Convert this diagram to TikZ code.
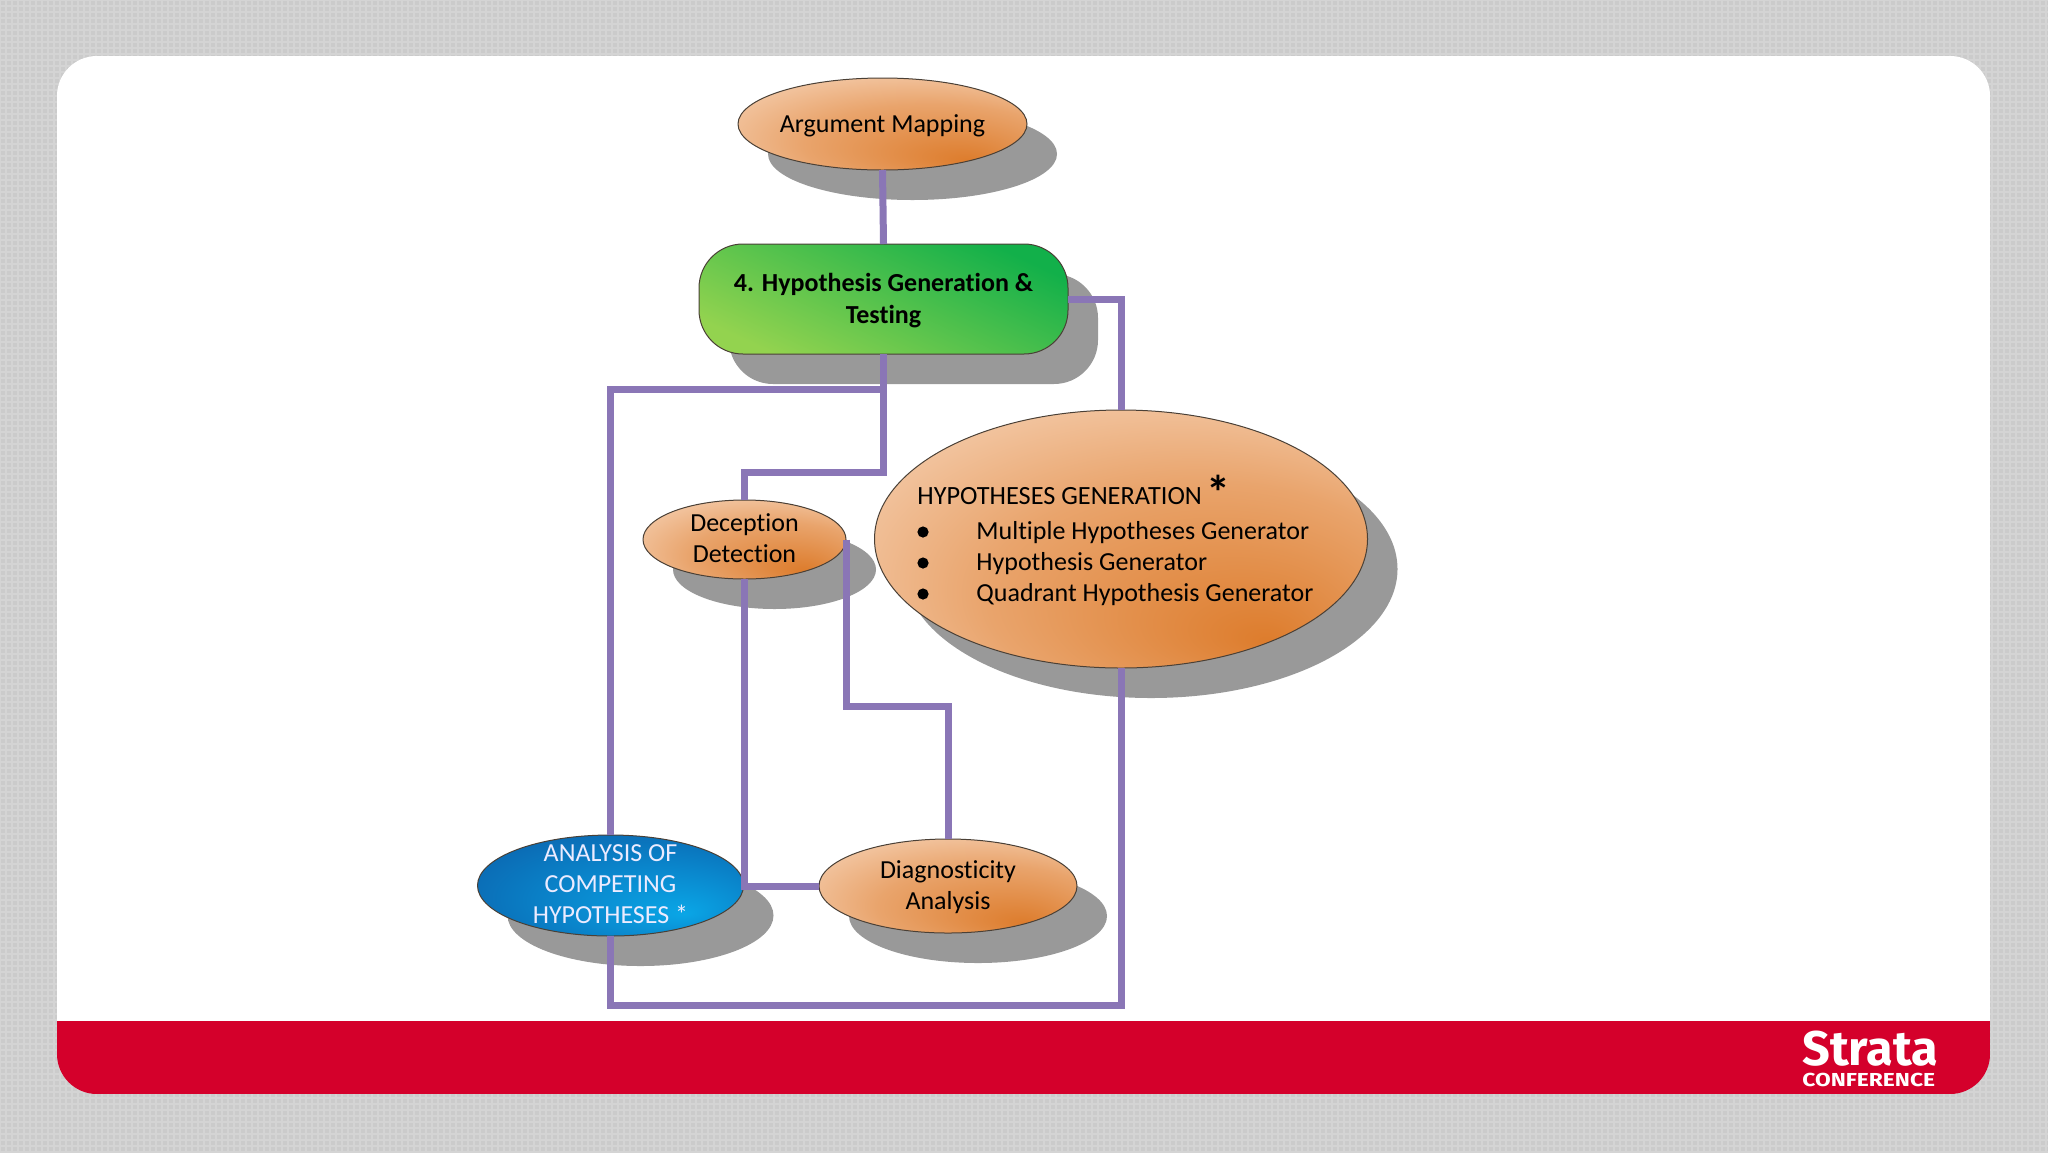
\documentclass[tikz,border=0pt]{standalone}
\usepackage{fontspec}
\setmainfont[Ligatures=NoCommon]{Carlito}
\newfontfamily\logofont{Fira Sans}
\usetikzlibrary{shapes.geometric,shadows,calc}
\definecolor{bggray}{HTML}{CBCBCB}
\definecolor{bglight}{HTML}{D4D4D4}
\definecolor{stratared}{HTML}{D4002B}
\definecolor{linkpurple}{HTML}{8A76B6}
\definecolor{shadowgray}{HTML}{999999}
\definecolor{edgedark}{HTML}{4A4036}
\definecolor{orangehot}{HTML}{DD7C2C}
\definecolor{orangemid}{HTML}{E9A46C}
\definecolor{orangepale}{HTML}{F8DAC2}
\definecolor{greenhot}{HTML}{12B04A}
\definecolor{greenmid}{HTML}{52C357}
\definecolor{greenpale}{HTML}{93D34F}
\definecolor{bluehot}{HTML}{0AA6E6}
\definecolor{bluemid}{HTML}{0A86CC}
\definecolor{bluedeep}{HTML}{0B62AC}
\pgfdeclareradialshading{orangeglow}{\pgfpoint{15bp}{-20bp}}{color(0bp)=(orangehot);color(22bp)=(orangemid);color(42bp)=(orangepale);color(50bp)=(orangepale)}
\pgfdeclareradialshading{blueglow}{\pgfpoint{14bp}{-14bp}}{color(0bp)=(bluehot);color(18bp)=(bluemid);color(38bp)=(bluedeep);color(50bp)=(bluedeep)}
\tikzset{
  x=0.5pt,y=-0.5pt,
  softshadow/.style={general shadow={fill=shadowgray,shadow xshift=15pt,shadow yshift=-15pt}},
  oval/.style 2 args={ellipse,inner sep=0pt,outer sep=0pt,minimum width=#1*1pt,minimum height=#2*1pt,
    draw=edgedark,line width=0.5pt,softshadow,shade},
  orangeoval/.style={shading=orangeglow},
  blueoval/.style={shading=blueglow},
  pill/.style={rectangle,rounded corners=22pt,inner sep=0pt,outer sep=0pt,minimum width=184.5pt,minimum height=55pt,
    draw=edgedark,line width=0.5pt,softshadow,top color=greenhot,middle color=greenmid,bottom color=greenpale,shading angle=-25},
  ovaltext/.style={inner sep=0pt,align=center,text=black,font=\fontsize{13}{15.6}\selectfont},
  plaintext/.style={anchor=base west,inner sep=0pt,text=black,font=\fontsize{13}{15.6}\selectfont},
  link/.style={draw=linkpurple,line width=3.5pt,line join=miter,line cap=butt},
}
\begin{document}
\begin{tikzpicture}
\useasboundingbox (0,0) rectangle (2048,1152);
% textured backdrop
\fill[bggray] (0,0) rectangle (2048,1152);
\foreach \gx in {0,6,...,2048} {\draw[bglight,line width=0.7pt] (\gx,0) -- (\gx,1152);}
\foreach \gy in {0,6,...,1152} {\draw[bglight,line width=0.7pt] (0,\gy) -- (2048,\gy);}
% card with red band
\begin{scope}
  \clip[rounded corners=20pt] (57,56) rectangle (1990,1094);
  \fill[white] (57,56) rectangle (1990,1021);
  \fill[stratared] (57,1021) rectangle (1990,1094);
\end{scope}
% logo
\node[anchor=base west,inner sep=0pt,text=white,font=\logofont\bfseries\fontsize{24.3}{24.3}\selectfont] (strata) at (1802,1065) {Strata};
\node[anchor=base west,inner sep=0pt,text=white,font=\logofont\bfseries\fontsize{9.4}{9.4}\selectfont] (conf) at (1802,1086) {\scalebox{1.21}[1]{CONFERENCE}};
% nodes
\node[oval={144.5}{46},orangeoval] (arg) at (882.5,124) {};
\node[pill] (green) at (883.5,299) {};
\node[oval={101.5}{39.5},orangeoval] (dec) at (744.5,539.5) {};
\node[oval={246.5}{129},orangeoval] (hyp) at (1121,539) {};
\node[oval={133}{50.5},blueoval] (ach) at (610.5,885.5) {};
\node[oval={129}{47},orangeoval] (diag) at (948,886) {};
% texts
\node[ovaltext] (argtext) at (882.5,125.5) {Argument Mapping};
\node[ovaltext,font=\fontsize{13}{15.6}\selectfont\bfseries] (greentext) at (883.5,300.5) {4. Hypothesis Generation \&\\Testing};
\node[ovaltext] (dectext) at (744.5,538.2) {Deception\\Detection};
\node[ovaltext,text=white!92!blue] (achtext) at (610.5,884.2) {ANALYSIS OF\\COMPETING\\HYPOTHESES *};
\node[ovaltext] (diagtext) at (948,887.3) {Diagnosticity\\Analysis};
\node[plaintext,font=\fontsize{13.15}{15.6}\selectfont] (hyphead) at (917,504) {HYPOTHESES GENERATION};
\node[anchor=center,inner sep=0pt,font=\fontsize{24}{24}\selectfont\bfseries] (hypstar) at (1218,492.5) {*};
\foreach \iname/\iy/\itext in {ia/539/Multiple Hypotheses Generator,ib/570/Hypothesis Generator,ic/601/Quadrant Hypothesis Generator}{
  \node[plaintext] (\iname) at (976,\iy) {\itext};
  \fill[black] (923,\iy-7) circle[radius=2.8pt];
}
% connectors
\draw[link] (arg.south) -- (green.north);
\draw[link] (green.east) -| (hyp.north);
\draw[link] (green.south) -- ++(0,35) -| (ach.north);
\draw[link] (green.south) -- ++(0,118) -| (dec.north);
\draw[link] (dec.south) |- (diag.west);
\draw[link] (dec.east) -- ++(0,167) -| (diag.north);
\draw[link] (hyp.south) -- ++(0,337) -| (ach.south);
\end{tikzpicture}
\end{document}
